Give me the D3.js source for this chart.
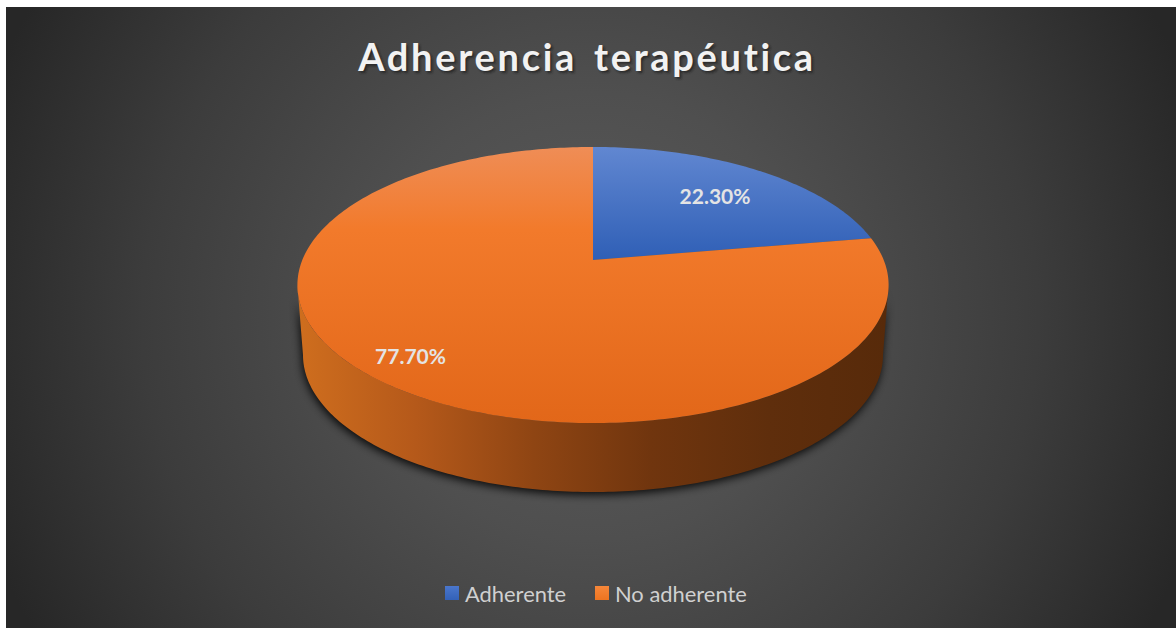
<!DOCTYPE html>
<html><head><meta charset="utf-8">
<script src="https://cdn.jsdelivr.net/npm/d3@7"></script>
<style>html,body{margin:0;padding:0;background:#fff;overflow:hidden}svg{display:block}text{font-family:Lato,"Open Sans",sans-serif}</style>
</head><body><svg id="c" width="1176" height="628"></svg>
<script>
const chartTitle = "Adherencia terapéutica";
const categories = ["Adherente", "No adherente"];
const shares = [22.3, 77.7];
const shareLabels = ["22.30%", "77.70%"];
const colorStops = [
  [[0, "#6187d1"], [0.41, "#2f5fb6"], [1, "#2f5fb6"]],
  [[0, "#ef8d56"], [0.3, "#f27a2b"], [1, "#e26719"]]
];
const swatchColors = [["#4a76cc", "#3361b8"], ["#f6873a", "#ee7420"]];

const W = 1176, H = 628;
const svg = d3.select("#c");
const defs = svg.append("defs");

// background
const bg = defs.append("radialGradient").attr("id", "bg").attr("gradientUnits", "userSpaceOnUse")
  .attr("cx", 590).attr("cy", 316).attr("r", 640);
[[0, "#5c5c5c"], [0.35, "#4f4f4f"], [0.7, "#3c3c3c"], [1, "#272727"]].forEach(s => bg.append("stop").attr("offset", s[0]).attr("stop-color", s[1]));
svg.append("rect").attr("x", 6).attr("y", 7).attr("width", W - 6).attr("height", H - 7).attr("fill", "url(#bg)");

// projective pie: disc coordinates -> screen
const cx = 593, apexY = 260, persp = 0.1812, yAmp = -86.4, xAmp = 290.7;
const project = t => {
  const u = Math.sin(t), v = Math.cos(t), d = 1 + persp * v;
  return [cx + xAmp * u / d, (yAmp * v + apexY) / d];
};
const step = Math.PI / 180;
const sweep = (a, b) => d3.range(a, b, step).concat([b]);

const pie = d3.pie().sort(null).value(d => d);
const arcs = pie(shares);

// extruded rim
const rimTop = { cy: 285, rx: 295.6, ry: 138 }, rimBot = { cy: 355, rx: 290, ry: 137 };
const ell = (e, t) => [cx + e.rx * Math.cos(t), e.cy + e.ry * Math.sin(t)];
const lower = d3.range(0, Math.PI + step / 2, step);
const rimPts = lower.map(t => ell(rimTop, t)).concat(lower.slice().reverse().map(t => ell(rimBot, t)));
const line = d3.line().curve(d3.curveLinearClosed);

const blur = defs.append("filter").attr("id", "blur").attr("x", "-10%").attr("y", "-10%").attr("width", "120%").attr("height", "120%");
blur.append("feGaussianBlur").attr("stdDeviation", 4);
svg.append("path").attr("d", line(rimPts)).attr("transform", "translate(-1,3)").attr("fill", "#000").attr("opacity", .85).attr("filter", "url(#blur)");

const rimGrad = defs.append("linearGradient").attr("id", "rim").attr("gradientUnits", "userSpaceOnUse")
  .attr("x1", 297).attr("x2", 888).attr("y1", 0).attr("y2", 0);
[[0, "#cf6e1e"], [0.2, "#b5591a"], [0.4, "#8f4513"], [0.6, "#70350e"], [0.8, "#5f2e0c"], [1, "#572a0a"]].forEach(s => rimGrad.append("stop").attr("offset", s[0]).attr("stop-color", s[1]));
svg.append("path").attr("d", line(rimPts)).attr("fill", "url(#rim)");

// slices
colorStops.forEach((stops, i) => {
  const g = defs.append("linearGradient").attr("id", "s" + i).attr("gradientUnits", "userSpaceOnUse")
    .attr("x1", 0).attr("x2", 0).attr("y1", 147).attr("y2", 423);
  stops.forEach(s => g.append("stop").attr("offset", s[0]).attr("stop-color", s[1]));
});
svg.selectAll("path.slice").data(arcs).join("path").attr("class", "slice")
  .attr("d", d => line([[cx, apexY]].concat(sweep(d.startAngle, d.endAngle).map(project))))
  .attr("fill", (d, i) => `url(#s${i})`);

// data labels
const labelPos = [[715, 204], [410.5, 364]];
svg.selectAll("text.dl").data(shareLabels).join("text").attr("class", "dl")
  .attr("x", (d, i) => labelPos[i][0]).attr("y", (d, i) => labelPos[i][1])
  .attr("text-anchor", "middle").attr("font-size", 21).attr("font-weight", 700).attr("fill", "#e4e4e4").text(d => d);

// title
const shadow = defs.append("filter").attr("id", "ts").attr("x", "-5%").attr("y", "-20%").attr("width", "110%").attr("height", "140%");
shadow.append("feGaussianBlur").attr("stdDeviation", 1.2);
const titleAttrs = s => s.attr("text-anchor", "middle").attr("font-size", 38).attr("font-weight", 700).attr("letter-spacing", 2.7).attr("word-spacing", 5).text(chartTitle);
svg.append("text").attr("x", 589).attr("y", 73).attr("fill", "#1c1c1c").attr("opacity", .7).attr("filter", "url(#ts)").call(titleAttrs);
svg.append("text").attr("x", 587).attr("y", 71).attr("fill", "#f2f2f2").call(titleAttrs);

// legend
const legendX = d3.scaleOrdinal().domain(categories).range([445, 595]);
swatchColors.forEach((c, i) => {
  const g = defs.append("linearGradient").attr("id", "sw" + i).attr("x1", 0).attr("x2", 0).attr("y1", 0).attr("y2", 1);
  c.forEach((col, j) => g.append("stop").attr("offset", j).attr("stop-color", col));
});
const lg = svg.selectAll("g.lg").data(categories).join("g").attr("class", "lg").attr("transform", d => `translate(${legendX(d)},586)`);
lg.append("rect").attr("width", 14).attr("height", 14).attr("fill", (d, i) => `url(#sw${i})`);
lg.append("text").attr("x", 20).attr("y", 15.5).attr("font-size", 21.9).attr("fill", "#d0d0d0").text(d => d);
</script></body></html>
